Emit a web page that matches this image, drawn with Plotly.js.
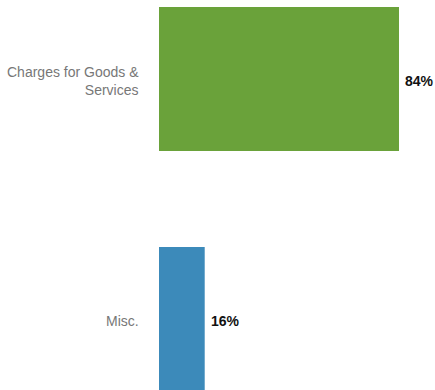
<!DOCTYPE html>
<html>
<head>
<meta charset="utf-8">
<script src="https://cdn.plot.ly/plotly-3.0.1.min.js"></script>
<style>html,body{margin:0;padding:0;background:#fff;}#chart{width:435px;height:390px;}</style>
</head>
<body>
<div id="chart"></div>
<script>
var categories = ["Misc.", "Charges for Goods &<br>Services"];
var values = [16, 84];
var barColors = ["#3c8aba", "#6aa23a"];

var FONT = "Liberation Sans, Arial, sans-serif";

var trace = {
  type: "bar",
  orientation: "h",
  y: categories,
  x: values,
  marker: {color: barColors},
  hoverinfo: "none"
};

var annotations = [];
categories.forEach(function(c, i){
  annotations.push({
    xref: "x", yref: "y", x: values[i], y: c,
    text: "<b>" + values[i] + "%</b>",
    xanchor: "left", yanchor: "middle", showarrow: false,
    xshift: 4, yshift: -2,
    font: {family: FONT, size: 14, color: "#111"}
  });
  annotations.push({
    xref: "paper", yref: "y", x: 0, y: c,
    text: c, align: "right",
    xanchor: "right", yanchor: "middle", showarrow: false,
    xshift: -18, yshift: -2,
    font: {family: FONT, size: 14, color: "#777"}
  });
});

var layout = {
  width: 435,
  height: 390,
  margin: {l: 159, r: 0, t: 0, b: 0, pad: 0},
  paper_bgcolor: "#fff",
  plot_bgcolor: "#fff",
  showlegend: false,
  bargap: 0.4,
  xaxis: {range: [0, 96.6], visible: false, fixedrange: true},
  yaxis: {
    type: "category",
    range: [-0.2958, 1.3292],
    showgrid: false, zeroline: false, showline: false,
    ticks: "", showticklabels: false,
    automargin: false,
    fixedrange: true
  },
  annotations: annotations,
  font: {family: FONT}
};

Plotly.newPlot("chart", [trace], layout, {displayModeBar: false, staticPlot: true});
</script>
</body>
</html>
